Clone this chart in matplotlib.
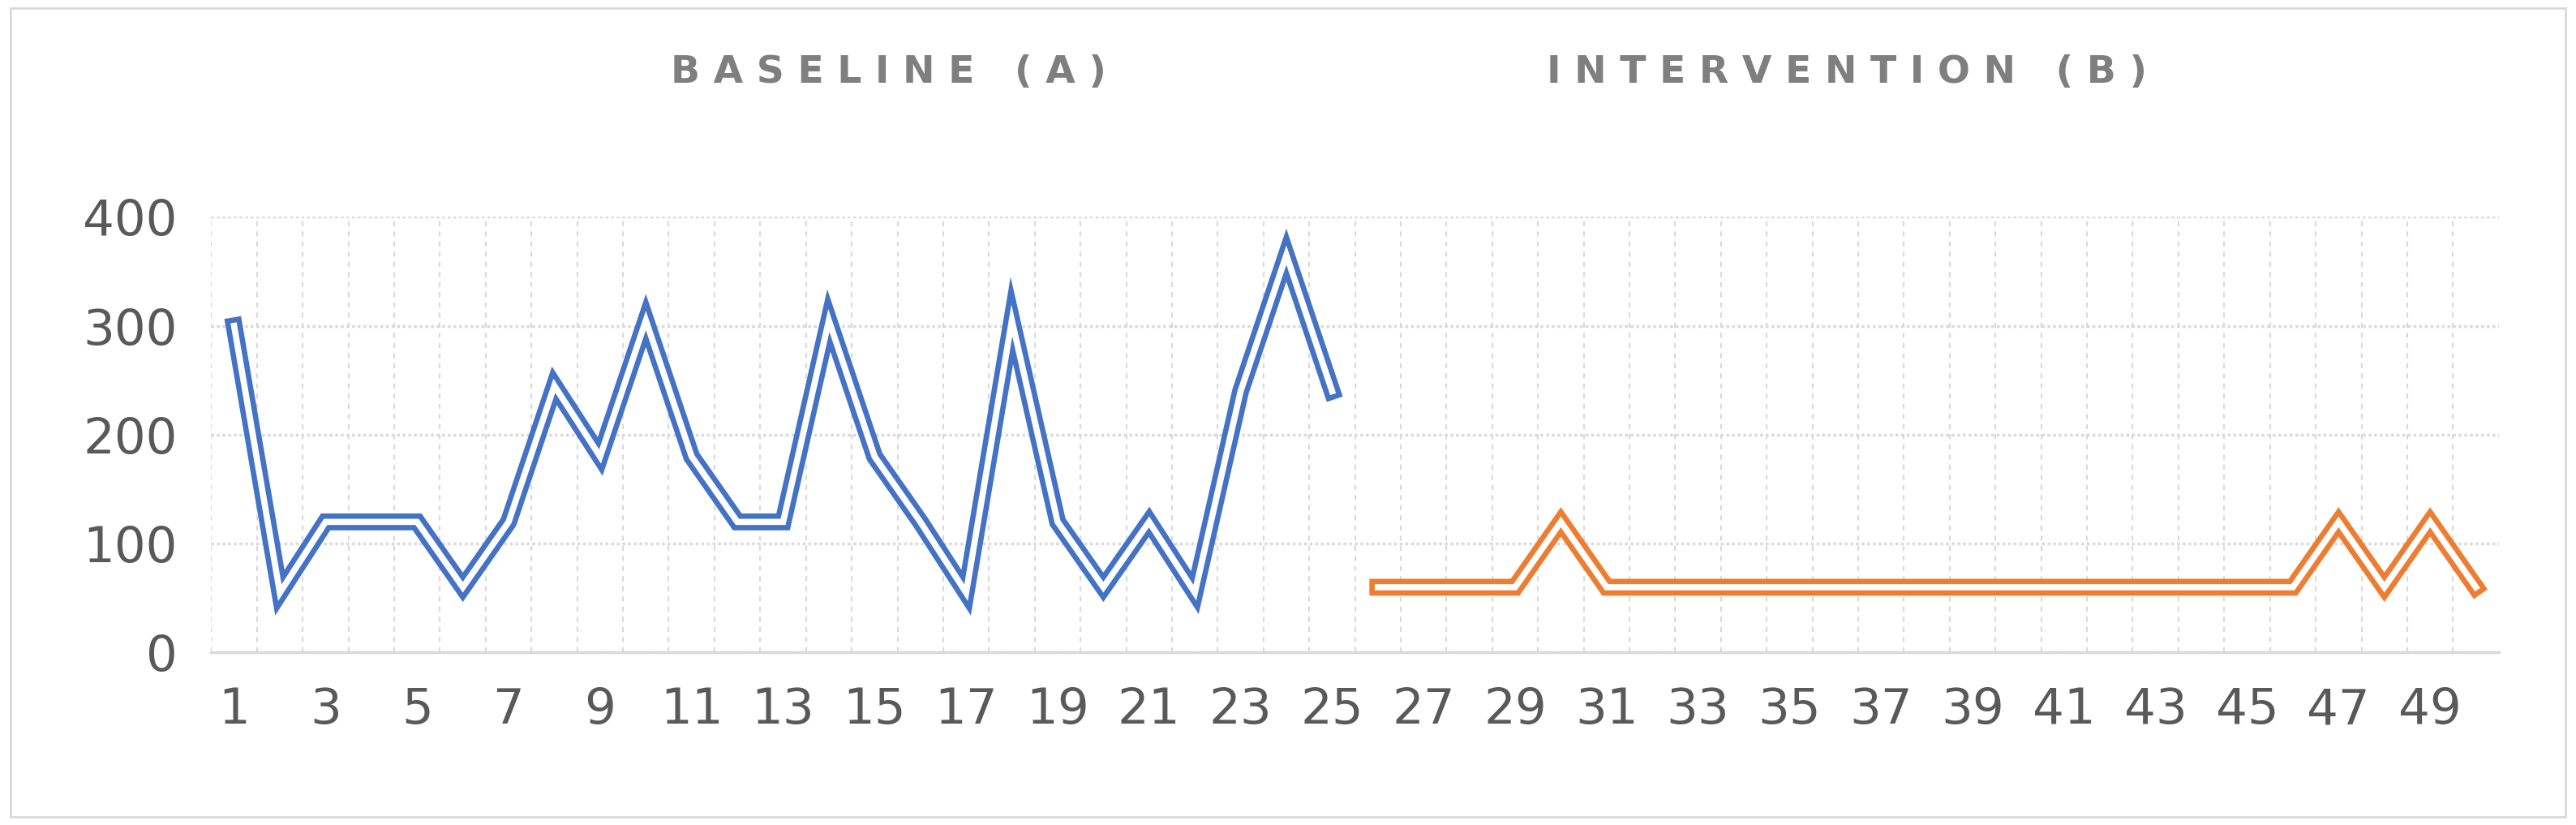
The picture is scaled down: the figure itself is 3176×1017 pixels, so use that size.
import matplotlib
matplotlib.use("Agg")
import matplotlib.pyplot as plt
from matplotlib.patches import Rectangle

baseline_x = list(range(1, 26))
baseline_y = [300, 55, 120, 120, 120, 60, 120, 245, 180, 305, 180, 120, 120, 305, 180, 120, 55, 305, 120, 60, 120, 55, 240, 365, 240]
interv_x = list(range(26, 51))
interv_y = [60, 60, 60, 60, 120, 60, 60, 60, 60, 60, 60, 60, 60, 60, 60, 60, 60, 60, 60, 60, 60, 120, 60, 120, 60]
xticks = list(range(1, 50, 2))
yticks = [0, 100, 200, 300, 400]

fig = plt.figure(figsize=(31.76, 10.17), dpi=100)
fig.patches.append(Rectangle((0.004, 0.01), 0.992, 0.98, transform=fig.transFigure,
                             fill=False, edgecolor="#d9d9d9", linewidth=2))
ax = fig.add_axes([0.082, 0.209, 0.888, 0.528])
for x, y, c in [(baseline_x, baseline_y, "#4472c4"), (interv_x, interv_y, "#ed7d31")]:
    ax.plot(x, y, color=c, linewidth=15, solid_joinstyle="miter", zorder=3)
    ax.plot(x, y, color="white", linewidth=5.5, solid_joinstyle="miter", zorder=4)
ax.set_xlim(0.5, 50.5)
ax.set_ylim(0, 400)
ax.set_xticks(xticks)
ax.set_xticks([i + 0.5 for i in range(50)], minor=True)
ax.set_yticks(yticks)
ax.tick_params(axis="both", length=0, labelsize=44, labelcolor="#595959", pad=30)
ax.tick_params(which="minor", length=0)
ax.grid(axis="y", which="major", color="#d9d9d9", linestyle=(0, (1, 1)), linewidth=2.5)
ax.grid(axis="x", which="minor", color="#d9d9d9", linestyle=(0, (3, 3)), linewidth=1.5)
for s in ["top", "right", "left"]:
    ax.spines[s].set_visible(False)
ax.spines["bottom"].set_color("#d9d9d9")
ax.spines["bottom"].set_linewidth(2.5)
fig.text(0.345, 0.9, "B A S E L I N E   ( A )", fontsize=34, fontweight="bold", color="#7f7f7f", ha="center")
fig.text(0.717, 0.9, "I N T E R V E N T I O N   ( B )", fontsize=34, fontweight="bold", color="#7f7f7f", ha="center")
fig.savefig("out.png", dpi=100)
